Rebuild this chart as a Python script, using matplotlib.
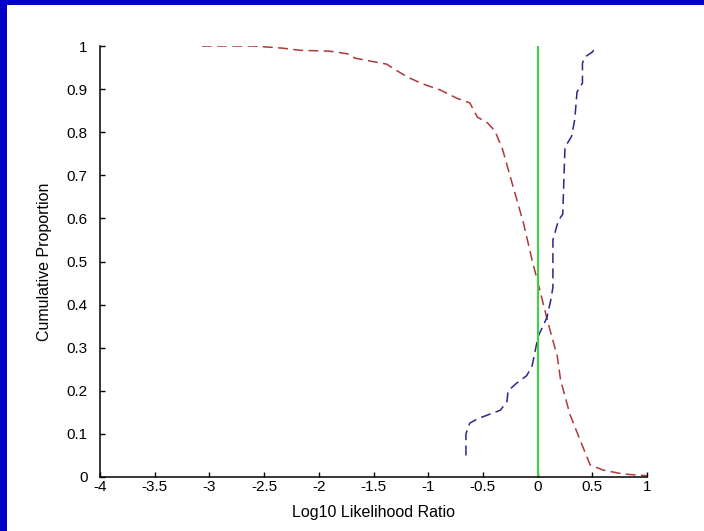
import numpy as np
import matplotlib
matplotlib.use('Agg')
import matplotlib.pyplot as plt
from matplotlib.patches import Rectangle

plt.rcParams['font.family'] = ['Liberation Sans', 'DejaVu Sans']

# red dashed curve (decreasing)
red_x = [-3.07, -2.6, -2.33, -2.17, -1.9, -1.74, -1.67, -1.49, -1.38, -1.32,
         -1.19, -1.05, -0.89, -0.74, -0.62, -0.55, -0.46, -0.39, -0.32, -0.22,
         -0.13, -0.05, 0.02, 0.096, 0.18, 0.21, 0.296, 0.388, 0.48, 0.6, 0.78, 1.0]
red_y = [1.0, 1.0, 0.995, 0.99, 0.988, 0.982, 0.972, 0.963, 0.958, 0.948,
         0.928, 0.912, 0.898, 0.879, 0.868, 0.835, 0.822, 0.803, 0.76, 0.67,
         0.59, 0.503, 0.434, 0.357, 0.28, 0.225, 0.145, 0.086, 0.028, 0.016, 0.007, 0.003]

# blue dashed curve (increasing)
blue_x = [-0.655, -0.655, -0.62, -0.55, -0.34, -0.28, -0.27, -0.19, -0.10, -0.05,
          -0.02, 0.003, 0.085, 0.12, 0.14, 0.14, 0.19, 0.23, 0.25, 0.31,
          0.34, 0.36, 0.41, 0.41, 0.43, 0.5, 0.54]
blue_y = [0.05, 0.10, 0.125, 0.135, 0.155, 0.175, 0.200, 0.218, 0.235, 0.258,
          0.295, 0.325, 0.37, 0.41, 0.44, 0.55, 0.595, 0.61, 0.765, 0.79,
          0.83, 0.893, 0.914, 0.96, 0.974, 0.986, 1.0]

x_ticks = np.arange(-4, 1.01, 0.5)
x_labels = ['-4', '-3.5', '-3', '-2.5', '-2', '-1.5', '-1', '-0.5', '0', '0.5', '1']
y_ticks = np.arange(0, 1.01, 0.1)
y_labels = ['0', '0.1', '0.2', '0.3', '0.4', '0.5', '0.6', '0.7', '0.8', '0.9', '1']

fig = plt.figure(figsize=(7.04, 5.31), dpi=100, facecolor='#0000c8')
fig.patches.append(Rectangle((7/704, 0), 1 - 7/704, 1 - 5/531, transform=fig.transFigure,
                             facecolor='white', edgecolor='none', zorder=-10))

ax = fig.add_axes([100/704, 54/531, 547/704, 431/531])
ax.set_facecolor('white')

ax.plot(red_x, red_y, '--', color='#b03838', lw=1.1, dashes=(6.5, 3.5))
ax.plot(blue_x, blue_y, '--', color='#28288a', lw=1.1, dashes=(6.5, 3.5))
ax.plot([0, 0], [0, 1], color='#3ed23e', lw=1.5)

ax.set_xlim(-4, 1)
ax.set_ylim(0, 1)
ax.set_xticks(x_ticks)
ax.set_xticklabels(x_labels)
ax.set_yticks(y_ticks)
ax.set_yticklabels(y_labels)
ax.tick_params(direction='in', length=3.6, width=1, labelsize=11)
ax.tick_params(axis='y', pad=9)
ax.tick_params(axis='x', pad=2)
for s in ['top', 'right']:
    ax.spines[s].set_visible(False)
for s in ['left', 'bottom']:
    ax.spines[s].set_linewidth(1.1)

ax.set_xlabel('Log10 Likelihood Ratio', fontsize=11.5)
ax.xaxis.set_label_coords(0.5, -0.065)
ax.set_ylabel('Cumulative Proportion', fontsize=11.5)
ax.yaxis.set_label_coords(-0.088, 0.5)

fig.savefig('out.png', dpi=100, facecolor=fig.get_facecolor())
